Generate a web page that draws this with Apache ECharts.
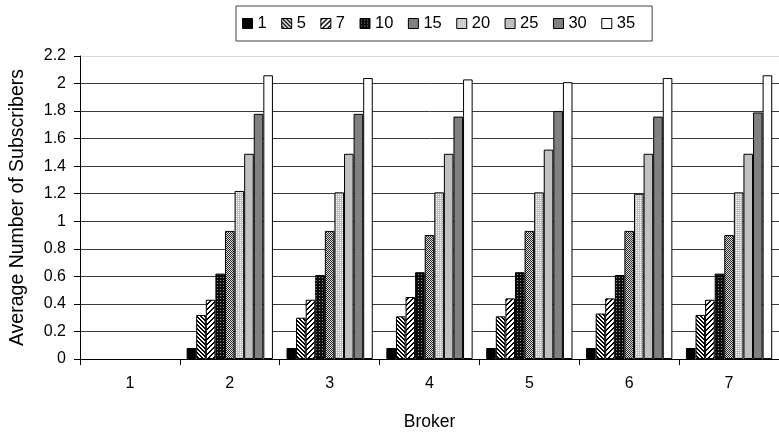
<!DOCTYPE html>
<html>
<head>
<meta charset="utf-8">
<script src="https://cdn.jsdelivr.net/npm/echarts@6/dist/echarts.min.js"></script>
<style>
html,body{margin:0;padding:0;background:#fff;}
#chart{width:779px;height:436px;}
</style>
</head>
<body>
<div id="chart"></div>
<script>
// ---- data ----
const categories = ['1', '2', '3', '4', '5', '6', '7'];
const seriesNames = ['1', '5', '7', '10', '15', '20', '25', '30', '35'];
const s1  = [0, 0.08, 0.08, 0.08, 0.08, 0.08, 0.08];
const s5  = [0, 0.32, 0.30, 0.31, 0.31, 0.33, 0.32];
const s7  = [0, 0.43, 0.43, 0.45, 0.44, 0.44, 0.43];
const s10 = [0, 0.62, 0.61, 0.63, 0.63, 0.61, 0.62];
const s15 = [0, 0.93, 0.93, 0.90, 0.93, 0.93, 0.90];
const s20 = [0, 1.22, 1.21, 1.21, 1.21, 1.20, 1.21];
const s25 = [0, 1.49, 1.49, 1.49, 1.52, 1.49, 1.49];
const s30 = [0, 1.78, 1.78, 1.76, 1.80, 1.76, 1.79];
const s35 = [0, 2.06, 2.04, 2.03, 2.01, 2.04, 2.06];
const seriesValues = [s1, s5, s7, s10, s15, s20, s25, s30, s35];
const yMin = 0, yMax = 2.2, yInterval = 0.2;

// ---- patterns ----
function makePattern(size, fn) {
  const c = document.createElement('canvas');
  c.width = size; c.height = size;
  const ctx = c.getContext('2d');
  const img = ctx.createImageData(size, size);
  for (let y = 0; y < size; y++) {
    for (let x = 0; x < size; x++) {
      const v = fn(x, y);
      const i = (y * size + x) * 4;
      img.data[i] = v; img.data[i + 1] = v; img.data[i + 2] = v; img.data[i + 3] = 255;
    }
  }
  ctx.putImageData(img, 0, 0);
  return { image: c, repeat: 'repeat' };
}
const fills = [
  '#000000',
  makePattern(8, (x, y) => (((x - y) % 4 + 4) % 4 < 2 ? 0 : 255)),          // \\\ stripes
  makePattern(10, (x, y) => ((x + y) % 5 < 2 ? 0 : 255)),                  // /// stripes
  makePattern(6, (x, y) => ((x % 3 === 1 && y % 3 === 1) ? 150 : 10)),     // dark grid
  makePattern(4, (x, y) => ((x + y) % 2 === 0 ? 40 : 220)),                // checker
  makePattern(4, (x, y) => ((x % 2 === 0 && y % 2 === 0) ? 255 : 190)),    // light dotted
  '#c0c0c0',
  '#808080',
  '#ffffff'
];

const gridColors = [];
for (let v = yMin; v <= yMax + 1e-9; v += yInterval) gridColors.push('#3a3a3a');
gridColors[gridColors.length - 1] = '#d8d8d8';

const series = seriesNames.map((name, i) => ({
  name: name,
  type: 'bar',
  data: seriesValues[i].map(v => v === 0 ? { value: v, itemStyle: { borderWidth: 0 } } : v),
  barGap: '0%',
  barCategoryGap: '13.6%',
  itemStyle: { color: fills[i], borderColor: '#000', borderWidth: 1 },
  emphasis: { disabled: true },
  animation: false
}));

const FONT = 'Liberation Sans, Arial, sans-serif';
const chart = echarts.init(document.getElementById('chart'), null, { renderer: 'canvas' });
chart.setOption({
  animation: false,
  backgroundColor: '#fff',
  textStyle: { fontFamily: FONT },
  legend: {
    data: seriesNames,
    left: 236,
    top: 6,
    orient: 'horizontal',
    itemWidth: 10,
    itemHeight: 10,
    itemGap: 14.5,
    padding: [9, 17, 9, 6],
    borderColor: '#444',
    borderWidth: 1,
    icon: 'rect',
    itemStyle: { borderColor: '#000', borderWidth: 1 },
    textStyle: { fontSize: 16.5, color: '#000', fontFamily: FONT },
    selectedMode: false
  },
  grid: { left: 80, top: 56, right: -8, bottom: 75, containLabel: false },
  xAxis: {
    type: 'category',
    data: categories,
    name: 'Broker',
    nameLocation: 'middle',
    nameGap: 54,
    nameTextStyle: { fontSize: 17.5, color: '#000', fontFamily: FONT },
    axisLine: { lineStyle: { color: '#000', width: 1 } },
    axisTick: { show: true, length: 6, alignWithLabel: false, lineStyle: { color: '#000' } },
    axisLabel: { fontSize: 16, color: '#000', margin: 17, fontFamily: FONT },
    splitLine: { show: false }
  },
  yAxis: {
    type: 'value',
    min: yMin,
    max: yMax,
    interval: yInterval,
    name: 'Average Number of Subscribers',
    nameLocation: 'middle',
    nameGap: 52,
    nameRotate: 90,
    nameTextStyle: { fontSize: 19.5, color: '#000', fontFamily: FONT },
    axisLine: { show: true, lineStyle: { color: '#000', width: 1 } },
    axisTick: { show: true, length: 6, lineStyle: { color: '#000' } },
    axisLabel: { fontSize: 16, color: '#000', margin: 14, fontFamily: FONT },
    splitLine: { show: true, lineStyle: { color: gridColors, width: 1 } }
  },
  series: series
});
</script>
</body>
</html>
